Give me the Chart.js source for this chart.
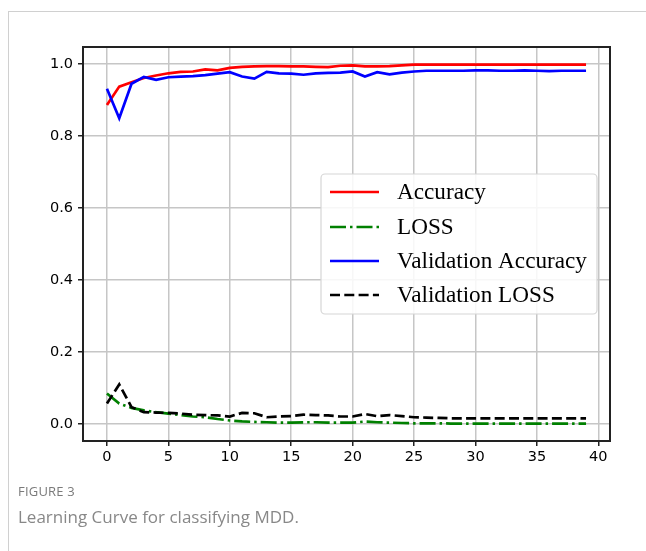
<!DOCTYPE html>
<html>
<head>
<meta charset="utf-8">
<script src="https://cdn.jsdelivr.net/npm/chart.js@4/dist/chart.umd.min.js"></script>
<style>
  html, body { margin: 0; padding: 0; background: #fff; }
  body { width: 646px; height: 551px; position: relative; overflow: hidden; }
  #frameTop { position: absolute; left: 8px; top: 11px; width: 638px; height: 1px; background: #d0d0d0; }
  #frameLeft { position: absolute; left: 8px; top: 11px; width: 1px; height: 540px; background: #d0d0d0; }
  #chartWrap { position: absolute; left: 0; top: 0; width: 646px; height: 551px; }
  .cap1 { position: absolute; left: 18px; top: 482px; font-family: "Open Sans", sans-serif; font-size: 13px; color: #7a7a7a; letter-spacing: 0.2px; }
  .cap2 { position: absolute; left: 18px; top: 505px; font-family: "Open Sans", sans-serif; font-size: 17px; color: #888; }
</style>
</head>
<body>
<div id="frameTop"></div>
<div id="frameLeft"></div>
<div id="chartWrap"><canvas id="c" width="646" height="551"></canvas></div>
<div class="cap1">FIGURE 3</div>
<div class="cap2">Learning Curve for classifying MDD.</div>
<script>
const epochs = Array.from({length: 40}, (_, i) => i);
const accuracy = [0.886,0.937,0.949,0.961,0.968,0.974,0.978,0.979,0.985,0.982,0.989,0.992,0.993,0.994,0.994,0.993,0.993,0.992,0.991,0.995,0.996,0.993,0.993,0.994,0.996,0.998,0.998,0.998,0.998,0.998,0.998,0.998,0.998,0.998,0.998,0.998,0.998,0.998,0.998,0.998];
const loss = [0.085,0.057,0.045,0.038,0.033,0.029,0.025,0.021,0.019,0.014,0.010,0.0075,0.006,0.005,0.004,0.004,0.005,0.005,0.004,0.004,0.004,0.007,0.005,0.004,0.003,0.002,0.002,0.002,0.0015,0.0015,0.0015,0.001,0.001,0.001,0.001,0.001,0.001,0.001,0.001,0.001];
const valAccuracy = [0.931,0.849,0.945,0.964,0.956,0.963,0.965,0.966,0.969,0.973,0.977,0.965,0.959,0.978,0.974,0.973,0.970,0.974,0.975,0.976,0.979,0.965,0.977,0.971,0.976,0.979,0.981,0.981,0.981,0.981,0.982,0.982,0.981,0.981,0.982,0.981,0.980,0.981,0.981,0.981];
const valLoss = [0.057,0.110,0.047,0.033,0.032,0.031,0.029,0.026,0.025,0.024,0.021,0.031,0.030,0.019,0.021,0.022,0.026,0.025,0.024,0.021,0.021,0.028,0.022,0.025,0.022,0.019,0.018,0.017,0.016,0.016,0.016,0.016,0.016,0.016,0.016,0.016,0.016,0.016,0.016,0.016];
const xTicks = [0, 5, 10, 15, 20, 25, 30, 35, 40];
const yTicks = [0.0, 0.2, 0.4, 0.6, 0.8, 1.0];
const seriesNames = ["Accuracy", "LOSS", "Validation Accuracy", "Validation LOSS"];

const toXY = arr => arr.map((v, i) => ({x: epochs[i], y: v}));

const frameAndLegend = {
  id: 'frameAndLegend',
  afterDatasetsDraw(chart) {
    const ctx = chart.ctx, a = chart.chartArea;
    ctx.save();
    ctx.strokeStyle = '#222';
    ctx.lineWidth = 2;
    ctx.strokeRect(a.left, a.top, a.right - a.left, a.bottom - a.top);
    const lx = 321, ly = 174, lw = 276, lh = 140, r = 4;
    ctx.beginPath();
    ctx.moveTo(lx + r, ly);
    ctx.arcTo(lx + lw, ly, lx + lw, ly + lh, r);
    ctx.arcTo(lx + lw, ly + lh, lx, ly + lh, r);
    ctx.arcTo(lx, ly + lh, lx, ly, r);
    ctx.arcTo(lx, ly, lx + lw, ly, r);
    ctx.closePath();
    ctx.fillStyle = 'rgba(255,255,255,0.85)';
    ctx.fill();
    ctx.strokeStyle = '#d6d6d6';
    ctx.lineWidth = 1.2;
    ctx.stroke();
    ctx.font = '23.2px "Liberation Serif", "Times New Roman", serif';
    ctx.textBaseline = 'middle';
    ctx.textAlign = 'left';
    const rows = [192, 227, 261, 295];
    chart.data.datasets.forEach((ds, i) => {
      const y = rows[i];
      ctx.beginPath();
      ctx.setLineDash(ds.borderDash || []);
      ctx.strokeStyle = ds.borderColor;
      ctx.lineWidth = ds.borderWidth;
      ctx.moveTo(330, y);
      ctx.lineTo(379, y);
      ctx.stroke();
      ctx.setLineDash([]);
      ctx.fillStyle = '#000';
      ctx.fillText(ds.label, 397, y + 1);
    });
    ctx.restore();
  }
};

new Chart(document.getElementById('c'), {
  type: 'line',
  data: {
    datasets: [
      { label: seriesNames[0], data: toXY(accuracy), borderColor: '#ff0000', borderWidth: 2.7, order: 4 },
      { label: seriesNames[1], data: toXY(loss), borderColor: '#008000', borderWidth: 2.7, borderDash: [16, 4, 2.5, 4], order: 3 },
      { label: seriesNames[2], data: toXY(valAccuracy), borderColor: '#0000ff', borderWidth: 2.7, order: 2 },
      { label: seriesNames[3], data: toXY(valLoss), borderColor: '#000000', borderWidth: 2.7, borderDash: [10, 4.3], order: 1 }
    ]
  },
  options: {
    responsive: false,
    animation: false,
    devicePixelRatio: 1,
    elements: { point: { radius: 0, hoverRadius: 0 }, line: { tension: 0, borderCapStyle: 'butt' } },
    layout: { padding: { left: 0, top: 47, right: 36, bottom: 0 } },
    plugins: { legend: { display: false }, tooltip: { enabled: false } },
    scales: {
      x: {
        type: 'linear', min: -1.95, max: 40.95,
        afterBuildTicks: s => { s.ticks = xTicks.map(v => ({value: v})); },
        afterFit: s => { s.height = 110; },
        grid: { color: '#c6c6c6', lineWidth: 1.5, tickColor: '#222', tickLength: 5, tickWidth: 1.5 },
        border: { display: false },
        ticks: { color: '#000', font: { family: 'DejaVu Sans', size: 14.5 }, padding: 3, maxRotation: 0, callback: v => String(v) }
      },
      y: {
        type: 'linear', min: -0.047, max: 1.047,
        afterBuildTicks: s => { s.ticks = yTicks.map(v => ({value: v})); },
        afterFit: s => { s.width = 83; },
        grid: { color: '#c6c6c6', lineWidth: 1.5, tickColor: '#222', tickLength: 5, tickWidth: 1.5 },
        border: { display: false },
        ticks: { color: '#000', font: { family: 'DejaVu Sans', size: 14.5 }, padding: 5, callback: v => v.toFixed(1) }
      }
    }
  },
  plugins: [frameAndLegend]
});
</script>
</body>
</html>
